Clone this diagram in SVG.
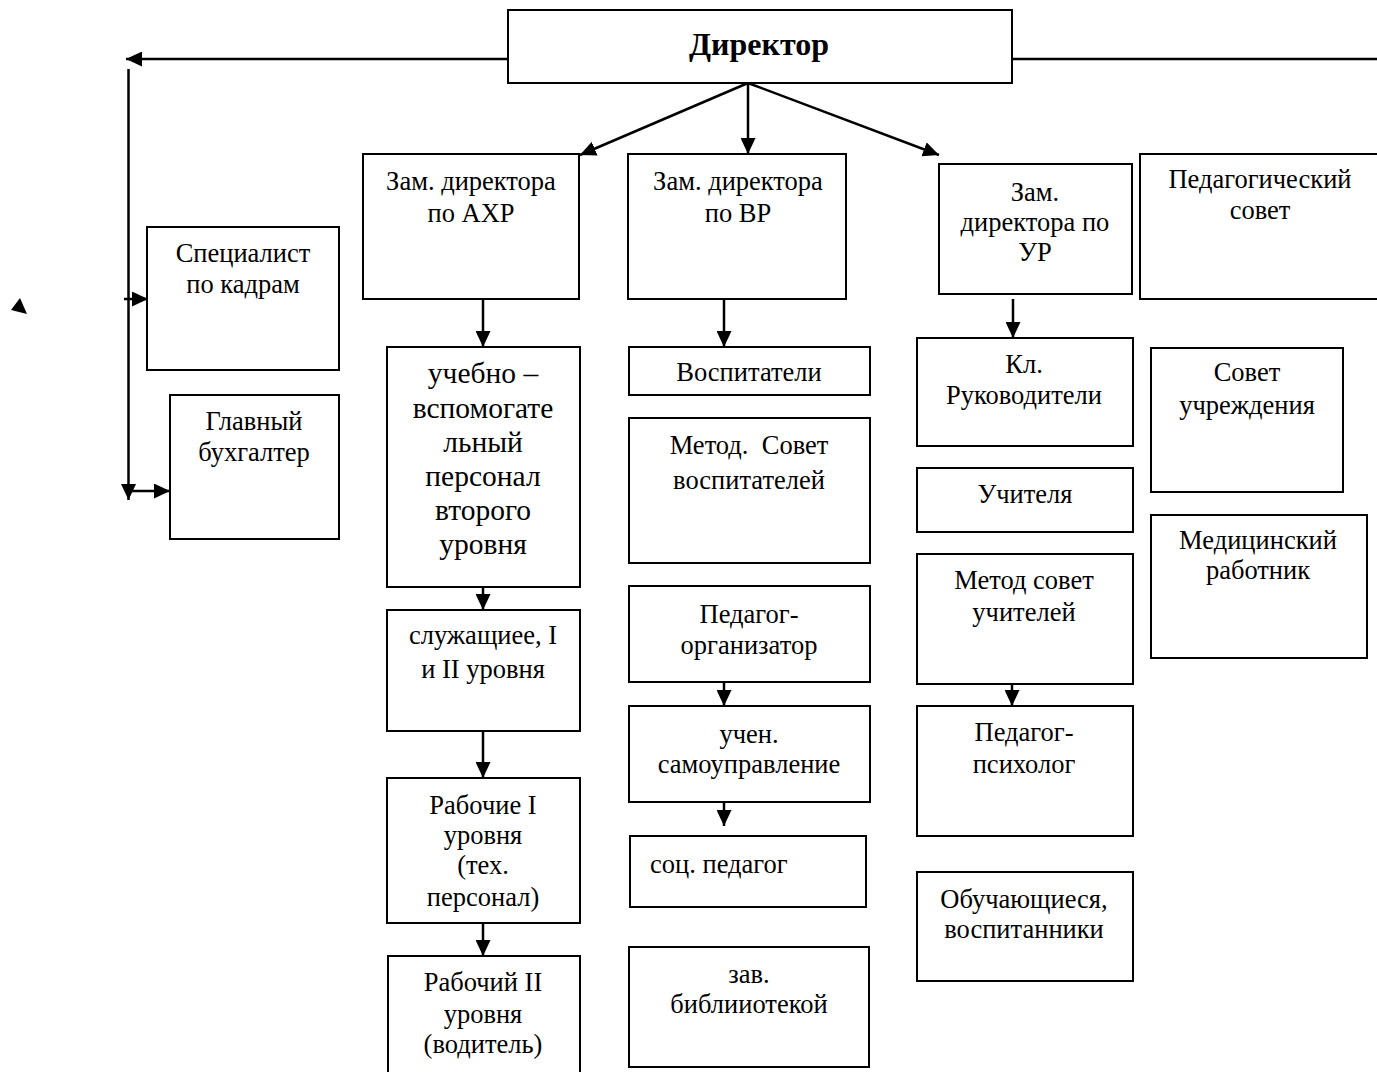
<svg xmlns="http://www.w3.org/2000/svg" width="1377" height="1072" viewBox="0 0 1377 1072">
<style>
.box{fill:#fff;stroke:#000;stroke-width:2}
.t{font-family:"Liberation Serif","Times New Roman",serif;font-size:26.5px;fill:#000;text-anchor:middle}
.tb{font-family:"Liberation Serif","Times New Roman",serif;font-size:32px;font-weight:bold;fill:#000;text-anchor:middle}
.big{font-size:29.5px}
.c{fill:none;stroke:#000;stroke-width:2.5}
</style>
<defs>
<marker id="ah" markerUnits="userSpaceOnUse" markerWidth="17" markerHeight="15" refX="16" refY="7.5" orient="auto">
<path d="M0,0 L16,7.5 L0,15 Z" fill="#000"/>
</marker>
</defs>
<rect width="1377" height="1072" fill="#fff"/>

<g id="connectors">
<line class="c" x1="508" y1="59" x2="126" y2="59" marker-end="url(#ah)"/>
<line class="c" x1="1012" y1="59" x2="1377" y2="59"/>
<line class="c" x1="128.5" y1="69" x2="128.5" y2="500" marker-end="url(#ah)"/>
<line class="c" x1="124" y1="299" x2="148" y2="299" marker-end="url(#ah)"/>
<line class="c" x1="128" y1="491" x2="170" y2="491" marker-end="url(#ah)"/>
<line class="c" x1="748" y1="83" x2="580" y2="155" marker-end="url(#ah)"/>
<line class="c" x1="748" y1="83" x2="748" y2="154" marker-end="url(#ah)"/>
<line class="c" x1="748" y1="83" x2="939" y2="155" marker-end="url(#ah)"/>
<line class="c" x1="483" y1="299" x2="483" y2="347" marker-end="url(#ah)"/>
<line class="c" x1="483" y1="587" x2="483" y2="610" marker-end="url(#ah)"/>
<line class="c" x1="483" y1="731" x2="483" y2="778" marker-end="url(#ah)"/>
<line class="c" x1="483" y1="923" x2="483" y2="956" marker-end="url(#ah)"/>
<line class="c" x1="724" y1="299" x2="724" y2="347" marker-end="url(#ah)"/>
<line class="c" x1="724" y1="682" x2="724" y2="706" marker-end="url(#ah)"/>
<line class="c" x1="724" y1="803" x2="724" y2="826" marker-end="url(#ah)"/>
<line class="c" x1="1013" y1="299" x2="1013" y2="338" marker-end="url(#ah)"/>
<line class="c" x1="1012" y1="684" x2="1012" y2="706" marker-end="url(#ah)"/>
<path d="M829,72 L842,65 L842,82 Z" fill="#000"/>
<path d="M20,298 L11,310 L27,314 Z" fill="#000"/>
</g>

<g id="director">
<rect class="box" x="508" y="10" width="504" height="73"/>
<text class="tb" x="759" y="55">Директор</text>
</g>

<g id="spec">
<rect class="box" x="147" y="227" width="192" height="143"/>
<text class="t" x="243" y="262">Специалист</text>
<text class="t" x="243" y="293">по кадрам</text>
</g>
<g id="buh">
<rect class="box" x="170" y="395" width="169" height="144"/>
<text class="t" x="254" y="430">Главный</text>
<text class="t" x="254" y="461">бухгалтер</text>
</g>

<g id="zam-ahr">
<rect class="box" x="363" y="154" width="216" height="145"/>
<text class="t" x="471" y="190">Зам. директора</text>
<text class="t" x="471" y="222">по АХР</text>
</g>
<g id="zam-vr">
<rect class="box" x="628" y="154" width="218" height="145"/>
<text class="t" x="738" y="190">Зам. директора</text>
<text class="t" x="738" y="222">по ВР</text>
</g>
<g id="zam-ur">
<rect class="box" x="939" y="164" width="193" height="130"/>
<text class="t" x="1035" y="201">Зам.</text>
<text class="t" x="1035" y="231">директора по</text>
<text class="t" x="1035" y="261">УР</text>
</g>
<g id="pedsovet">
<rect class="box" x="1140" y="154" width="240" height="145"/>
<text class="t" x="1260" y="188">Педагогический</text>
<text class="t" x="1260" y="219">совет</text>
</g>

<g id="uchebno">
<rect class="box" x="387" y="347" width="193" height="240"/>
<text class="t big" x="483" y="383">учебно –</text>
<text class="t big" x="483" y="418">вспомогате</text>
<text class="t big" x="483" y="452">льный</text>
<text class="t big" x="483" y="486">персонал</text>
<text class="t big" x="483" y="520">второго</text>
<text class="t big" x="483" y="554">уровня</text>
</g>
<g id="sluzh">
<rect class="box" x="387" y="610" width="193" height="121"/>
<text class="t" x="483" y="644">служащиее, I</text>
<text class="t" x="483" y="678">и II уровня</text>
</g>
<g id="rab1">
<rect class="box" x="387" y="778" width="193" height="145"/>
<text class="t" x="483" y="814">Рабочие I</text>
<text class="t" x="483" y="844">уровня</text>
<text class="t" x="483" y="874">(тех.</text>
<text class="t" x="483" y="906">персонал)</text>
</g>
<g id="rab2">
<rect class="box" x="388" y="956" width="192" height="130"/>
<text class="t" x="483" y="991">Рабочий II</text>
<text class="t" x="483" y="1023">уровня</text>
<text class="t" x="483" y="1053">(водитель)</text>
</g>

<g id="vosp">
<rect class="box" x="629" y="347" width="241" height="48"/>
<text class="t" x="749" y="381">Воспитатели</text>
</g>
<g id="metod-vosp">
<rect class="box" x="629" y="418" width="241" height="145"/>
<text class="t" x="749" y="454" xml:space="preserve">Метод.  Совет</text>
<text class="t" x="749" y="489">воспитателей</text>
</g>
<g id="ped-org">
<rect class="box" x="629" y="586" width="241" height="96"/>
<text class="t" x="749" y="623">Педагог-</text>
<text class="t" x="749" y="654">организатор</text>
</g>
<g id="uchen">
<rect class="box" x="629" y="706" width="241" height="96"/>
<text class="t" x="749" y="743">учен.</text>
<text class="t" x="749" y="773">самоуправление</text>
</g>
<g id="soc">
<rect class="box" x="630" y="836" width="236" height="71"/>
<text class="t" x="650" y="873" style="text-anchor:start">соц. педагог</text>
</g>
<g id="bibl">
<rect class="box" x="629" y="947" width="240" height="120"/>
<text class="t" x="749" y="983">зав.</text>
<text class="t" x="749" y="1013">библииотекой</text>
</g>

<g id="kl">
<rect class="box" x="917" y="338" width="216" height="108"/>
<text class="t" x="1024" y="373">Кл.</text>
<text class="t" x="1024" y="404">Руководители</text>
</g>
<g id="uchit">
<rect class="box" x="917" y="468" width="216" height="64"/>
<text class="t" x="1025" y="503">Учителя</text>
</g>
<g id="metod-uch">
<rect class="box" x="917" y="554" width="216" height="130"/>
<text class="t" x="1024" y="589">Метод совет</text>
<text class="t" x="1024" y="621">учителей</text>
</g>
<g id="psych">
<rect class="box" x="917" y="706" width="216" height="130"/>
<text class="t" x="1024" y="741">Педагог-</text>
<text class="t" x="1024" y="773">психолог</text>
</g>
<g id="obuch">
<rect class="box" x="917" y="872" width="216" height="109"/>
<text class="t" x="1024" y="908">Обучающиеся,</text>
<text class="t" x="1024" y="938">воспитанники</text>
</g>
<g id="sovet-uchr">
<rect class="box" x="1151" y="348" width="192" height="144"/>
<text class="t" x="1247" y="381">Совет</text>
<text class="t" x="1247" y="414">учреждения</text>
</g>
<g id="med">
<rect class="box" x="1151" y="515" width="216" height="143"/>
<text class="t" x="1258" y="549">Медицинский</text>
<text class="t" x="1258" y="579">работник</text>
</g>
</svg>
